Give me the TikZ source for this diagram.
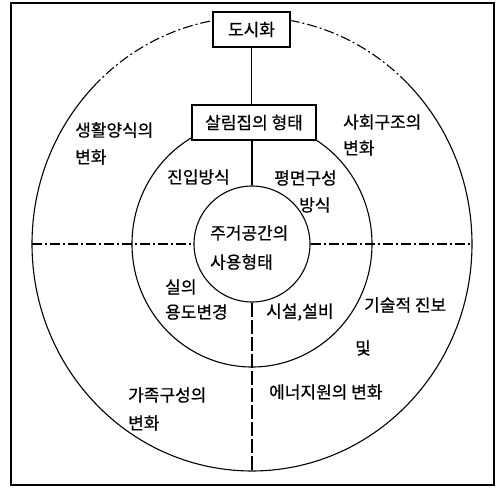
\documentclass[tikz,border=0pt]{standalone}
\usepackage{fontspec}
\newfontfamily\kr{Noto Sans CJK KR}[FakeBold=0.7]
\begin{document}
\begin{tikzpicture}[x=1pt,y=1pt,
  font=\kr\fontsize{17}{27}\selectfont,
  ring/.style={line width=1.1pt},
  dashdot/.style={line width=1.1pt, dash pattern=on 10pt off 3pt on 2pt off 3pt},
  dashline/.style={line width=1.1pt, dash pattern=on 14pt off 3pt},
  box/.style={draw, line width=1.2pt, fill=white, inner sep=0pt, minimum height=35pt},
  core/.style={draw, circle, line width=1.1pt, minimum size=116pt, inner sep=0pt},
  lbl/.style={inner sep=0pt, anchor=west}]
\useasboundingbox (0,0) rectangle (496,488);
\draw[line width=1.1pt] (11,3) rectangle (494,485);
\coordinate (c) at (252,244);
% rings
\draw[ring] (c) ellipse [x radius=120pt, y radius=123pt];
\draw[ring] (c) ++(135:220pt and 227pt) arc[start angle=135, end angle=405, x radius=220pt, y radius=227pt];
\draw[dashdot] (c) ++(45:220pt and 227pt) arc[start angle=45, end angle=135, x radius=220pt, y radius=227pt];
\coordinate (oL) at (32,244);
\coordinate (oR) at (472,244);
\coordinate (oB) at (252,17);
% nodes
\node[core] (core) at (c) {};
\node[box, minimum width=77pt] (doshi) at (251.5,458.5) {도시화};
\node[box, minimum width=124pt] (salim) at (254,365.5) {살림집의 형태};
% connectors
\draw[dashdot] (oL) -- (core.west);
\draw[dashdot] (core.east) -- (oR);
\draw[line width=1.1pt] (doshi.south) -- (doshi.south |- salim.north);
\draw[line width=1.1pt] (core.north |- salim.south) -- (core.north);
\draw[dashline] (core.south) -- (oB);
% labels
\node[lbl] (t1a) at (75,358) {생활양식의};
\node[lbl] (t1b) at (75,331) {변화};
\node[lbl] (t2) at (167,311) {진입방식};
\node[lbl] (t3a) at (274,310) {평면구성};
\node[lbl] (t3b) at (299,283) {방식};
\node[lbl] (t4a) at (343,366) {사회구조의};
\node[lbl] (t4b) at (343,340) {변화};
\node[lbl] (t5a) at (210,255) {주거공간의};
\node[lbl] (t5b) at (210,226) {사용형태};
\node[lbl] (t6a) at (165,201) {실의};
\node[lbl] (t6b) at (165,176) {용도변경};
\node[lbl] (t7) at (266,176) {시설,설비};
\node[lbl] (t8a) at (364,183) {기술적 진보};
\node[inner sep=0pt] (t8b) at (363,140) {및};
\node[lbl] (t8c) at (269,96) {에너지원의 변화};
\node[lbl] (t9a) at (128,93) {가족구성의};
\node[lbl] (t9b) at (128,65) {변화};
\end{tikzpicture}
\end{document}
